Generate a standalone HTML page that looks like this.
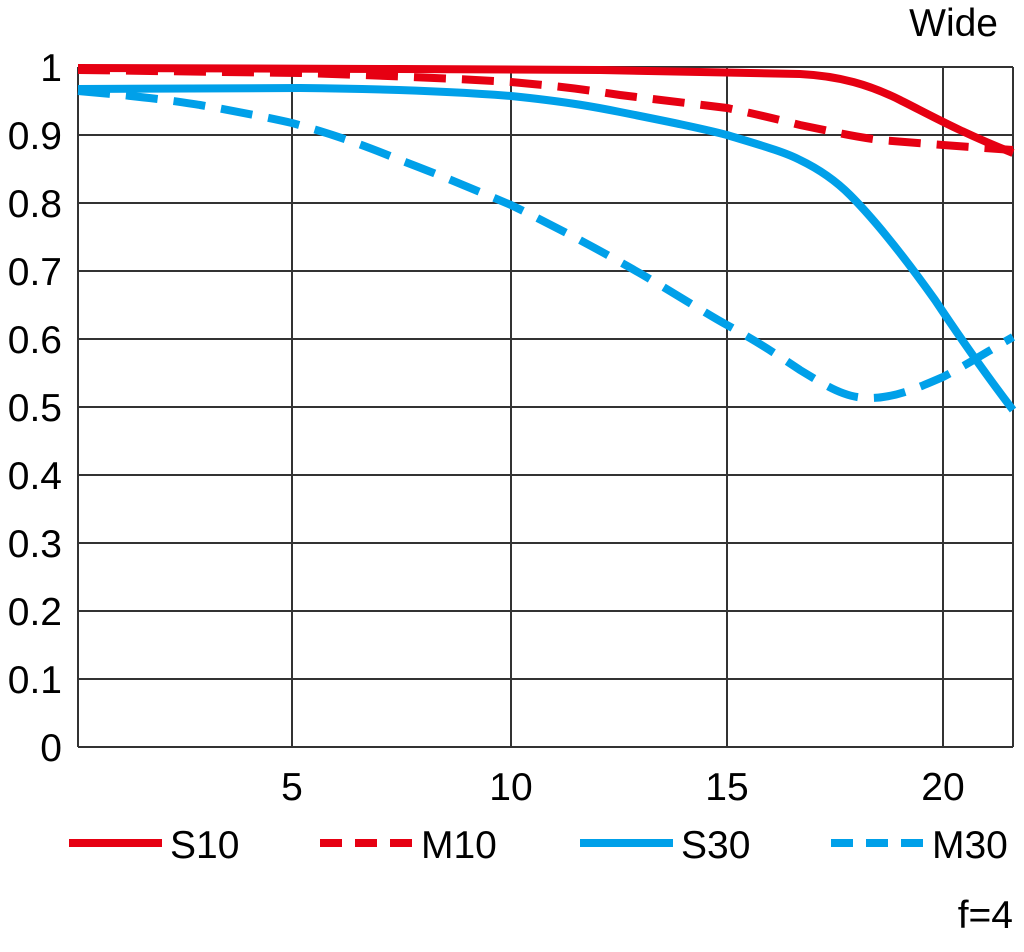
<!DOCTYPE html><html><head><style>body{margin:0;background:#fff}</style></head><body>
<svg width="1024" height="947" xmlns="http://www.w3.org/2000/svg" font-family="Liberation Sans, sans-serif">
<g stroke="#333" stroke-width="2" fill="none">
<path d="M78 67H1013M78 135H1013M78 203H1013M78 271H1013M78 339H1013M78 407H1013M78 475H1013M78 543H1013M78 611H1013M78 679H1013M78 747H1013"/>
<path d="M78 67V747M292 67V747M511 67V747M727 67V747M943 67V747M1013 67V747"/>
</g>
<g font-size="39" fill="#000" text-anchor="end">
<text x="62" y="81">1</text><text x="62" y="149">0.9</text><text x="62" y="217">0.8</text><text x="62" y="285">0.7</text><text x="62" y="353">0.6</text><text x="62" y="421">0.5</text><text x="62" y="489">0.4</text><text x="62" y="557">0.3</text><text x="62" y="625">0.2</text><text x="62" y="693">0.1</text><text x="62" y="761">0</text>
</g>
<g font-size="39" fill="#000" text-anchor="middle">
<text x="292" y="800">5</text><text x="511" y="800">10</text><text x="727" y="800">15</text><text x="943" y="800">20</text>
</g>
<text x="998" y="36" font-size="39" text-anchor="end">Wide</text>
<text x="1013" y="928" font-size="39" text-anchor="end">f=4</text>
<g fill="none" stroke-width="8">
<path d="M78 68 L400 69 L600 70 L700 72 L800 74 C840 76 870 85 900 100 C930 115 960 132 1013 153" stroke="#e60012"/>
<path d="M78 70 L300 73 C400 76 460 79 511 82 C570 87 600 92 620 95 L727 108 C760 115 780 120 800 125 C830 131 850 136 880 140 L943 145 L1013 150" stroke="#e60012" stroke-dasharray="32 16"/>
<path d="M78 89 L300 88 C400 89 460 92 511 96 C570 102 600 108 620 112 C670 122 700 128 727 135 C760 145 785 152 800 160 C825 172 840 185 850 195 C880 225 910 265 935 300 C965 345 990 380 1013 410" stroke="#00a0e9"/>
<path d="M78 91 C150 97 180 102 200 105 C240 112 270 118 292 123 C340 136 370 148 400 160 C440 175 480 192 511 205 C550 224 590 245 620 262 C660 284 700 310 727 325 C760 343 785 360 800 370 C830 388 845 398 870 398 C895 398 920 387 943 377 C970 363 990 350 1013 337" stroke="#00a0e9" stroke-dasharray="32 16"/>
<path d="M69 843H162" stroke="#e60012"/>
<path d="M320 843H413" stroke="#e60012" stroke-dasharray="22 13"/>
<path d="M580 843H673" stroke="#00a0e9"/>
<path d="M831 843H924" stroke="#00a0e9" stroke-dasharray="22 13"/>
</g>
<g font-size="39" fill="#000">
<text x="170" y="858">S10</text><text x="421" y="858">M10</text><text x="681" y="858">S30</text><text x="932" y="858">M30</text>
</g>
</svg></body></html>
